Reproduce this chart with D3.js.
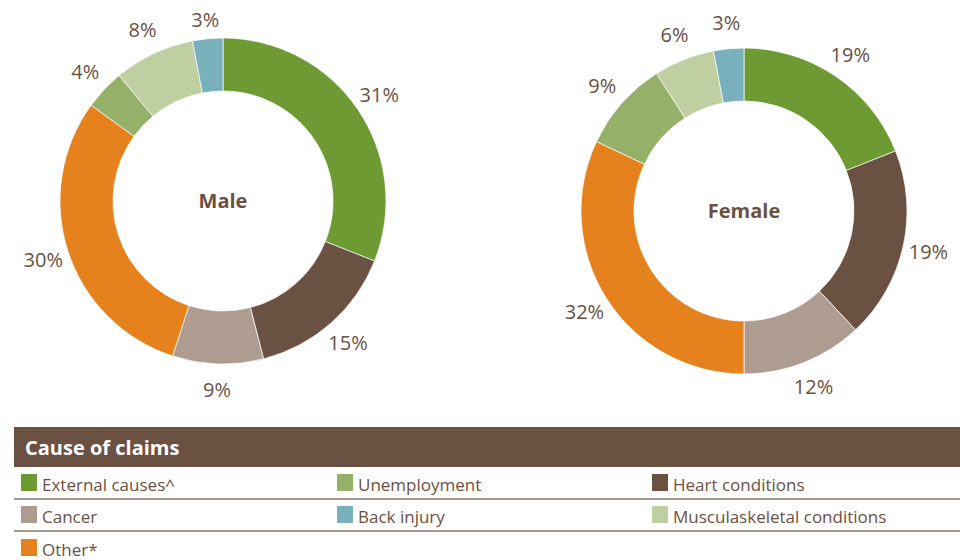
<!DOCTYPE html>
<html>
<head>
<meta charset="utf-8">
<script src="https://cdn.jsdelivr.net/npm/d3@7"></script>
<style>
  body { margin: 0; background: #fff; }
  text { font-family: "Open Sans", "Noto Sans", sans-serif; }
</style>
</head>
<body>
<div id="chart"></div>
<script>
// Data
let causes = ["External causes^", "Heart conditions", "Cancer", "Other*", "Unemployment", "Musculaskeletal conditions", "Back injury"];
let colors = ["#6e9a34", "#6a5142", "#ae9c90", "#e6821e", "#95b068", "#bfcfa2", "#78b0bc"];
let maleValues = [31, 15, 9, 30, 4, 8, 3];
let femaleValues = [19, 19, 12, 32, 9, 6, 3];

// legend layout order (row by row)
let legendOrder = ["External causes^", "Unemployment", "Heart conditions",
                   "Cancer", "Back injury", "Musculaskeletal conditions",
                   "Other*"];

let svgWidth = 960;
let svgHeight = 560;
let textColor = "#6a5142";

let svg = d3.select("#chart")
  .append("svg")
  .attr("width", svgWidth)
  .attr("height", svgHeight);

let colorScale = d3.scaleOrdinal().domain(causes).range(colors);

let pie = d3.pie().sort(null).value(d => d.value);
let outerR = 163;
let innerR = 110;
let arc = d3.arc().innerRadius(innerR).outerRadius(outerR);
let labelArc = d3.arc().innerRadius(189).outerRadius(189);

function drawDonut(values, cx, cy, title) {
  let data = causes.map((c, i) => ({cause: c, value: values[i]}));
  let g = svg.append("g").attr("transform", `translate(${cx}, ${cy})`);

  let arcs = pie(data);

  g.selectAll("path")
    .data(arcs)
    .enter()
    .append("path")
    .attr("d", arc)
    .attr("fill", d => colorScale(d.data.cause))
    .attr("stroke", "#fff")
    .attr("stroke-width", 0.7);

  // keep labels near the top inside the page
  g.selectAll("text.pct")
    .data(arcs)
    .enter()
    .append("text")
    .attr("class", "pct")
    .attr("x", d => labelArc.centroid(d)[0])
    .attr("y", d => Math.max(labelArc.centroid(d)[1], 20 - cy))
    .attr("text-anchor", "middle")
    .attr("dy", "0.36em")
    .attr("font-size", 20)
    .attr("fill", textColor)
    .text(d => d.data.value + "%");

  g.append("text")
    .attr("text-anchor", "middle")
    .attr("dy", "0.36em")
    .attr("font-size", 20)
    .attr("font-weight", "bold")
    .attr("fill", textColor)
    .text(title);
}

drawDonut(maleValues, 223, 201, "Male");
drawDonut(femaleValues, 744, 211, "Female");

// Legend
let legendLeft = 14;
let headerTop = 427;
let headerHeight = 40;

svg.append("rect")
  .attr("x", legendLeft)
  .attr("y", headerTop)
  .attr("width", svgWidth - legendLeft)
  .attr("height", headerHeight)
  .attr("fill", "#6a5142");

svg.append("text")
  .attr("x", 25)
  .attr("y", 455)
  .attr("font-size", 20)
  .attr("font-weight", "bold")
  .attr("fill", "#fff")
  .text("Cause of claims");

let colX = [21, 337, 652];
let rowY = [474, 506, 539];

// separators under rows 1 and 2
[499, 531].forEach(y => {
  svg.append("line")
    .attr("x1", legendLeft)
    .attr("x2", svgWidth)
    .attr("y1", y)
    .attr("y2", y)
    .attr("stroke", "#8c7667")
    .attr("stroke-width", 1.5);
});

let items = svg.append("g")
  .selectAll("g")
  .data(legendOrder)
  .enter()
  .append("g")
  .attr("transform", (d, i) => `translate(${colX[i % 3]}, ${rowY[Math.floor(i / 3)]})`);

items.append("rect")
  .attr("width", 16)
  .attr("height", 17)
  .attr("fill", d => colorScale(d));

items.append("text")
  .attr("x", 21)
  .attr("y", 16.5)
  .attr("font-size", 17)
  .attr("fill", textColor)
  .text(d => d);
</script>
</body>
</html>
